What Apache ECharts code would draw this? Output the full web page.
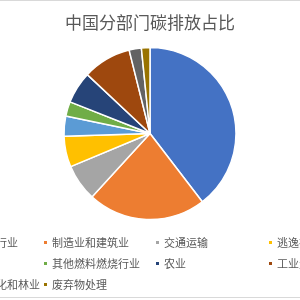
<!DOCTYPE html>
<html><head><meta charset="utf-8">
<script src="https://cdn.jsdelivr.net/npm/echarts@6/dist/echarts.min.js"></script>
<style>html,body{margin:0;padding:0;background:#fff}#c{width:300px;height:300px}</style>
</head><body><div id="c"></div>
<script>
const categories = ['电力和热力行业','制造业和建筑业','交通运输','逃逸排放','建筑','其他燃料燃烧行业','农业','工业生产过程','土地利用变化和林业','废弃物处理'];
const values = [39.6, 22.2, 6.9, 5.8, 3.75, 2.75, 6.0, 9.1, 2.3, 1.6];
const colors = ['#4472C4','#ED7D31','#A5A5A5','#FFC000','#5B9BD5','#70AD47','#264478','#9E480E','#636363','#997300'];
const legendColumns = [
  ['电力和热力行业','建筑','土地利用变化和林业'],
  ['制造业和建筑业','其他燃料燃烧行业','废弃物处理'],
  ['交通运输','农业'],
  ['逃逸排放','工业生产过程']
];
const legendLeft = [-69, 42, 154, 267];
const chart = echarts.init(document.getElementById('c'), null, {renderer:'canvas'});
const font = '"Noto Sans CJK SC", sans-serif';
chart.setOption({
  animation:false,
  backgroundColor:'#fff',
  title:{text:'中国分部门碳排放占比', left:'center', top:9,
    textStyle:{fontSize:17, fontWeight:'normal', color:'#595959', fontFamily:font}},
  legend: legendColumns.map((col,i)=>({
    data:col, orient:'vertical', left:legendLeft[i], top:237,
    itemWidth:5, itemHeight:5, itemGap:10, icon:'rect', padding:0,
    textStyle:{fontSize:11, color:'#595959', fontFamily:font, padding:[0,0,0,-1]},
    selectedMode:false
  })),
  graphic:[
    {type:'line', shape:{x1:0,y1:0.5,x2:300,y2:0.5}, style:{stroke:'#d9d9d9', lineWidth:1}},
    {type:'line', shape:{x1:0,y1:297.5,x2:300,y2:297.5}, style:{stroke:'#d9d9d9', lineWidth:1}}
  ],
  series:[{
    type:'pie', center:[150,133.5], radius:86, startAngle:90, clockwise:true,
    label:{show:false}, labelLine:{show:false},
    itemStyle:{borderColor:'#fff', borderWidth:1.5},
    emphasis:{disabled:true},
    data: categories.map((n,i)=>({name:n, value:values[i], itemStyle:{color:colors[i]}}))
  }]
});
</script></body></html>
